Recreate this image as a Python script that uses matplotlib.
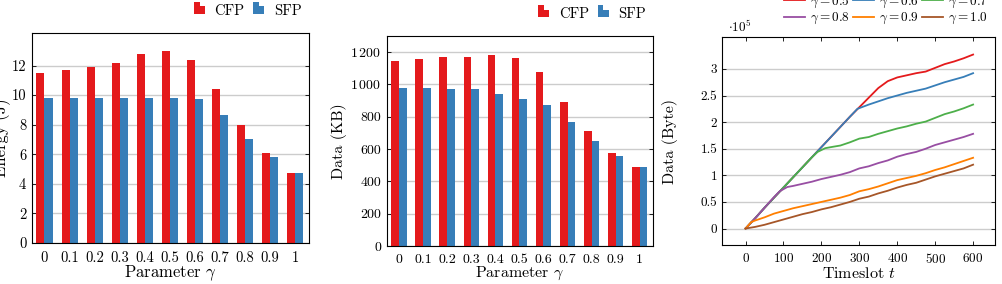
import matplotlib
matplotlib.use('Agg')
import matplotlib.pyplot as plt
import numpy as np
from matplotlib.patches import Rectangle
from matplotlib.legend_handler import HandlerBase

plt.rcParams['font.family'] = 'serif'
plt.rcParams['font.serif'] = ['cmr10', 'DejaVu Serif']
plt.rcParams['mathtext.fontset'] = 'cm'
plt.rcParams['axes.formatter.use_mathtext'] = True
plt.rcParams['axes.unicode_minus'] = False

# data
gammas = ['0', '0.1', '0.2', '0.3', '0.4', '0.5', '0.6', '0.7', '0.8', '0.9', '1']
energy_cfp = [11.5, 11.7, 11.9, 12.2, 12.8, 13.0, 12.4, 10.4, 8.0, 6.1, 4.75]
energy_sfp = [9.8, 9.8, 9.8, 9.8, 9.8, 9.8, 9.75, 8.65, 7.05, 5.8, 4.75]
data_cfp = [1148, 1160, 1167, 1169, 1183, 1163, 1076, 889, 715, 575, 492]
data_sfp = [977, 977, 975, 969, 940, 907, 870, 765, 651, 555, 492]

# cumulative data, units of 1e5 bytes
t_05 = [0, 25, 50, 75, 100, 125, 150, 175, 200, 225, 250, 275, 300, 325, 350, 375, 400, 425, 450, 475, 500, 525, 550, 575, 600]
d_05 = [0, 0.19, 0.39, 0.58, 0.77, 0.96, 1.15, 1.34, 1.53, 1.72, 1.91, 2.10, 2.28, 2.46, 2.64, 2.77, 2.84, 2.88, 2.92, 2.95, 3.02, 3.09, 3.14, 3.20, 3.27]
t_06 = [0, 25, 50, 75, 100, 125, 150, 175, 200, 225, 250, 275, 295, 325, 350, 375, 400, 425, 450, 475, 500, 525, 550, 575, 600]
d_06 = [0, 0.19, 0.39, 0.58, 0.77, 0.96, 1.15, 1.34, 1.53, 1.72, 1.91, 2.10, 2.25, 2.33, 2.39, 2.45, 2.50, 2.55, 2.59, 2.63, 2.69, 2.75, 2.80, 2.85, 2.92]
t_07 = [0, 25, 50, 75, 100, 125, 150, 175, 190, 210, 225, 250, 275, 300, 325, 350, 375, 400, 425, 450, 475, 500, 525, 550, 575, 600]
d_07 = [0, 0.19, 0.39, 0.58, 0.77, 0.96, 1.15, 1.34, 1.44, 1.51, 1.53, 1.56, 1.62, 1.69, 1.72, 1.78, 1.83, 1.88, 1.92, 1.97, 2.01, 2.08, 2.15, 2.20, 2.26, 2.33]
t_08 = [0, 25, 50, 75, 90, 110, 125, 150, 175, 200, 225, 250, 275, 300, 325, 350, 375, 400, 425, 450, 475, 500, 525, 550, 575, 600]
d_08 = [0, 0.19, 0.39, 0.59, 0.70, 0.78, 0.80, 0.84, 0.88, 0.93, 0.97, 1.01, 1.06, 1.13, 1.17, 1.23, 1.28, 1.35, 1.40, 1.44, 1.50, 1.57, 1.62, 1.67, 1.72, 1.78]
t_09 = [0, 15, 25, 50, 75, 100, 125, 150, 175, 200, 225, 250, 275, 300, 325, 350, 375, 400, 425, 450, 475, 500, 525, 550, 575, 600]
d_09 = [0, 0.12, 0.15, 0.21, 0.28, 0.33, 0.38, 0.42, 0.46, 0.50, 0.54, 0.58, 0.63, 0.70, 0.74, 0.79, 0.85, 0.91, 0.95, 0.99, 1.04, 1.10, 1.15, 1.21, 1.27, 1.33]
t_10 = [0, 25, 50, 75, 100, 125, 150, 175, 200, 225, 250, 275, 300, 325, 350, 375, 400, 425, 450, 475, 500, 525, 550, 575, 600]
d_10 = [0, 0.03, 0.07, 0.12, 0.17, 0.22, 0.27, 0.31, 0.36, 0.40, 0.45, 0.50, 0.56, 0.60, 0.66, 0.71, 0.77, 0.82, 0.86, 0.92, 0.98, 1.03, 1.08, 1.13, 1.20]

line_series = [
    (t_05, d_05, r'$\gamma = 0.5$', '#e41a1c'),
    (t_06, d_06, r'$\gamma = 0.6$', '#377eb8'),
    (t_07, d_07, r'$\gamma = 0.7$', '#4daf4a'),
    (t_08, d_08, r'$\gamma = 0.8$', '#984ea3'),
    (t_09, d_09, r'$\gamma = 0.9$', '#ff7f00'),
    (t_10, d_10, r'$\gamma = 1.0$', '#a65628'),
]

RED = '#e41a1c'
BLUE = '#377eb8'
GRID = '#cccccc'


class TwoBarHandler(HandlerBase):
    # pgfplots style legend glyph: two small bars
    def __init__(self, color):
        super().__init__()
        self.color = color

    def create_artists(self, legend, orig, xd, yd, w, h, fontsize, trans):
        bw = w * 0.42
        r1 = Rectangle((xd, yd), bw, h * 1.1, facecolor=self.color, edgecolor='none', transform=trans)
        r2 = Rectangle((xd + bw, yd), bw, h * 0.7, facecolor=self.color, edgecolor='none', transform=trans)
        return [r1, r2]


fig = plt.figure(figsize=(10.02, 2.84), dpi=100)
ax1 = fig.add_axes([0.0319, 0.1444, 0.2764, 0.7394])
ax2 = fig.add_axes([0.3862, 0.1338, 0.2655, 0.7394])
ax3 = fig.add_axes([0.7206, 0.1373, 0.2725, 0.7324])

def bar_panel(ax, cfp, sfp, ylim, yticks, ylabels, ylabel, label_x, fs_tick, fs_lab):
    x = np.arange(len(gammas))
    w = 0.32
    b1 = ax.bar(x - w / 2, cfp, w, color=RED, label='CFP', zorder=2)
    b2 = ax.bar(x + w / 2, sfp, w, color=BLUE, label='SFP', zorder=2)
    ax.set_xlim(-0.5, 10.55)
    ax.set_ylim(*ylim)
    ax.set_xticks(x)
    ax.set_xticklabels(gammas)
    ax.set_yticks(yticks)
    ax.set_yticklabels(ylabels)
    ax.yaxis.grid(True, color=GRID, lw=1.0, zorder=0)
    ax.set_axisbelow(True)
    ax.tick_params(axis='x', length=0, pad=6, labelsize=fs_tick)
    ax.tick_params(axis='y', direction='in', length=3, right=True, labelsize=fs_tick, pad=4, width=0.6)
    ax.set_xlabel(r'Parameter $\gamma$', fontsize=fs_lab, labelpad=-1)
    ax.set_ylabel(ylabel, fontsize=fs_lab)
    ax.yaxis.set_label_coords(label_x, 0.5)
    for s in ax.spines.values():
        s.set_linewidth(0.8)
    ax.legend(handles=[b1, b2], handler_map={b1: TwoBarHandler(RED), b2: TwoBarHandler(BLUE)},
              loc='center right', bbox_to_anchor=(1.0, 1.105), ncol=2, frameon=False,
              fontsize=10.5, handlelength=0.9, handleheight=0.8, handletextpad=0.5,
              columnspacing=0.6, borderpad=0)

bar_panel(ax1, energy_cfp, energy_sfp, (0, 14.2), [0, 2, 4, 6, 8, 10, 12],
          ['0', '2', '4', '6', '8', '10', '12'], 'Energy (J)', -0.075, 10.5, 12)
bar_panel(ax2, data_cfp, data_sfp, (0, 1300), [0, 200, 400, 600, 800, 1000, 1200],
          ['0', '200', '400', '600', '800', r'$1\,000$', r'$1\,200$'], 'Data (KB)', -0.15, 10, 11.5)

for t, d, lab, col in line_series:
    ax3.plot(t, d, color=col, lw=1.3, label=lab)
ax3.set_xlim(-62, 658)
ax3.set_ylim(-0.31, 3.6)
ax3.set_xticks([0, 100, 200, 300, 400, 500, 600])
ax3.set_yticks([0, 0.5, 1, 1.5, 2, 2.5, 3])
ax3.set_yticklabels(['0', '0.5', '1', '1.5', '2', '2.5', '3'])
ax3.yaxis.grid(True, color=GRID, lw=1.0, zorder=0)
ax3.set_axisbelow(True)
ax3.tick_params(direction='in', length=3, top=True, right=True, labelsize=9.5, width=0.6)
ax3.tick_params(axis='x', pad=5)
ax3.set_xlabel(r'Timeslot $t$', fontsize=11.5, labelpad=0)
ax3.set_ylabel('Data (Byte)', fontsize=11.5)
ax3.yaxis.set_label_coords(-0.16, 0.5)
for s in ax3.spines.values():
    s.set_linewidth(0.8)
ax3.text(0.022, 1.01, r'$\cdot 10^5$', transform=ax3.transAxes, fontsize=9.5, ha='left', va='bottom')

# legend fills column-wise, so reorder to read row-wise like the original
h, l = ax3.get_legend_handles_labels()
order = [0, 3, 1, 4, 2, 5]
ax3.legend([h[i] for i in order], [l[i] for i in order], loc='lower right',
           bbox_to_anchor=(1.0, 1.02), ncol=3, frameon=False,
           fontsize=9.5, handlelength=1.6, handletextpad=0.4, columnspacing=0.2,
           borderpad=0, labelspacing=0.1)

fig.savefig('out.png', dpi=100)
